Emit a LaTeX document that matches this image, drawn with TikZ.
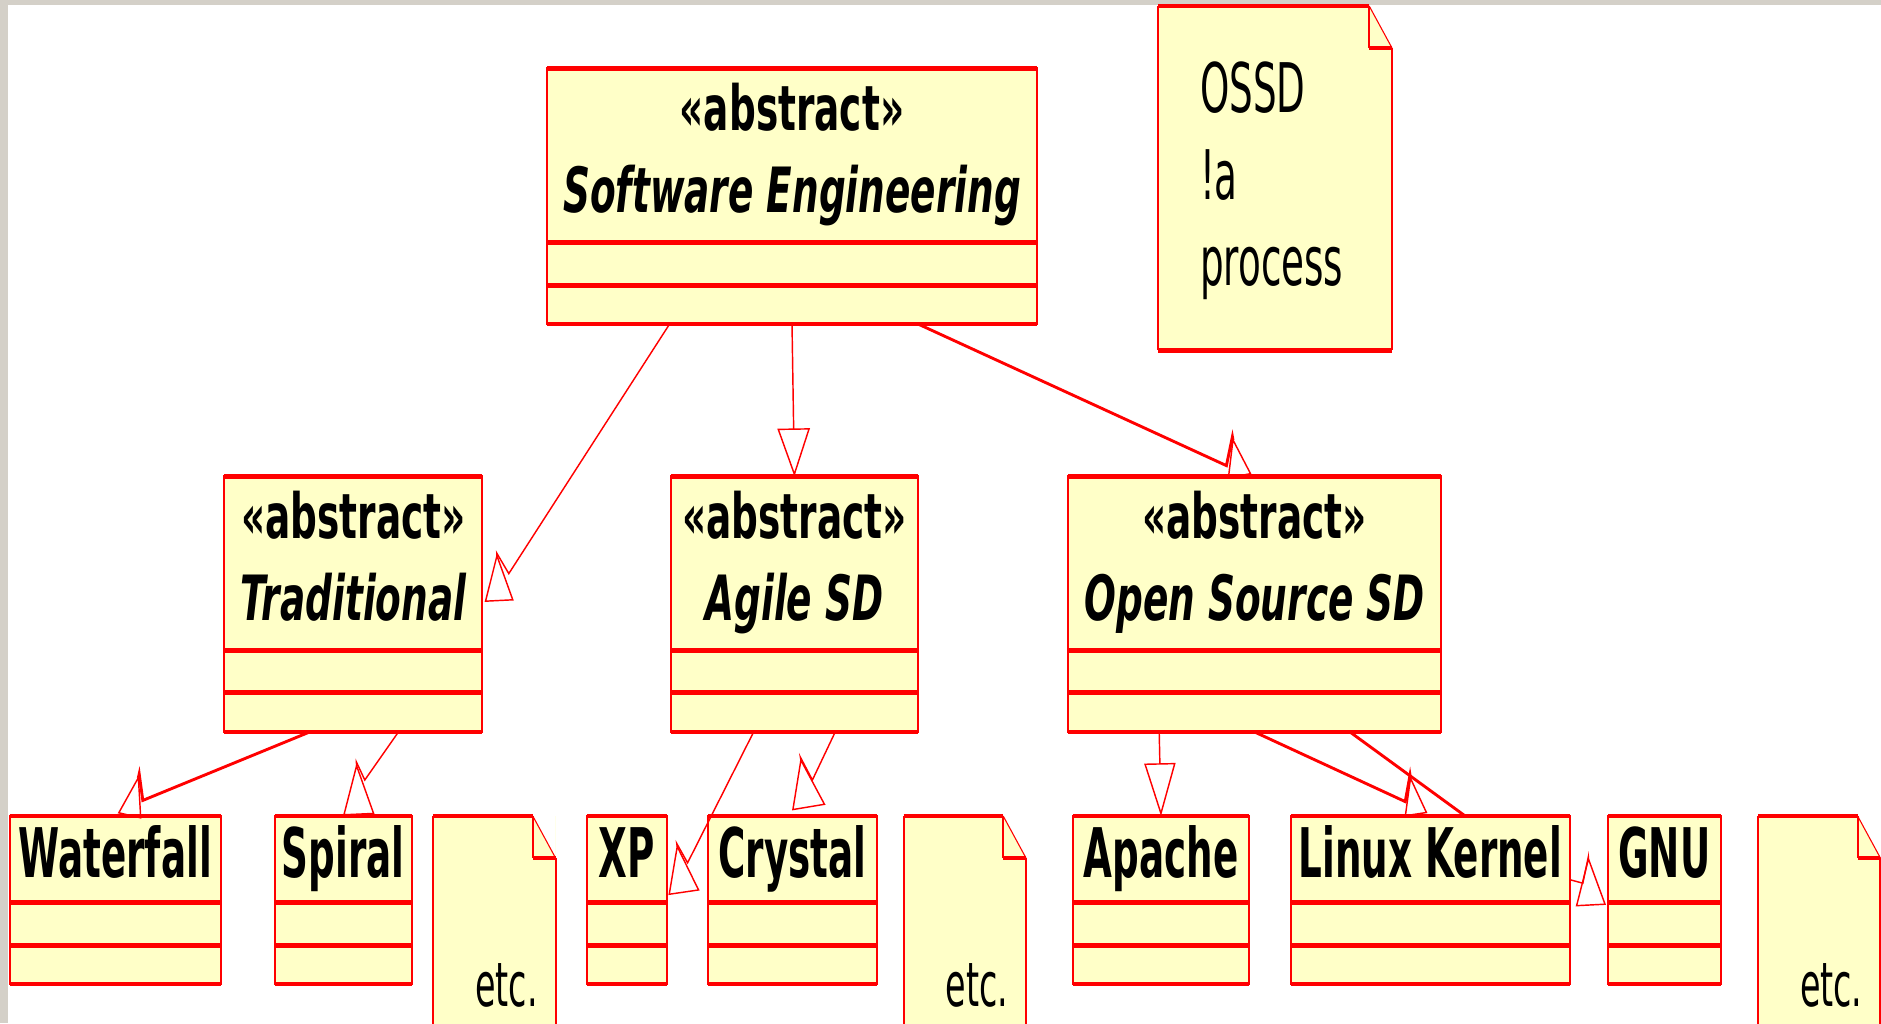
\documentclass[tikz,border=0pt]{standalone}
\usepackage{fontspec}
\newfontfamily\clsfont{DejaVu Sans}[FakeStretch=0.6]
\newfontfamily\leaffont{DejaVu Sans}[FakeStretch=0.545]
\usetikzlibrary{calc,positioning,arrows.meta}
\definecolor{umlred}{RGB}{255,0,0}
\definecolor{umlfill}{RGB}{255,255,200}
\definecolor{framegray}{RGB}{212,208,200}
\newcommand{\absname}[1]{\rule{0pt}{40pt}«abstract»\\\itshape #1\rule[-13pt]{0pt}{13pt}}

\begin{document}
\begin{tikzpicture}[x=1pt,y=-1pt,
  hbar/.style={draw=umlred,line width=4pt},
  vline/.style={draw=umlred,line width=1.8pt},
  cls/.style={draw=umlred,fill=umlfill,line width=1.8pt,outer sep=0pt,inner sep=0pt,
    append after command={(\tikzlastnode.north west) edge[hbar] (\tikzlastnode.north east)
      (\tikzlastnode.south west) edge[hbar] (\tikzlastnode.south east)}},
  abs/.style={cls,anchor=north west,minimum height=145pt,align=center,
    font=\clsfont\bfseries\fontsize{52}{68.5}\selectfont},
  leaf/.style={cls,anchor=north west,minimum height=72pt,text height=42pt,text depth=12pt,
    font=\leaffont\bfseries\fontsize{57}{68}\selectfont},
  note/.style={fill=umlfill,outer sep=0pt,inner xsep=35pt,inner ysep=0pt,anchor=north west,
    align=left,font=\leaffont\fontsize{57}{72}\selectfont},
  etcnote/.style={note,text width=32pt,minimum height=195pt,text height=125pt,text depth=2pt,
    font=\leaffont\fontsize{51}{60}\selectfont},
  conn/.style={draw=umlred,line width=1.2pt},
  flat/.style={draw=umlred,line width=2.4pt},
  gen/.style 2 args={-{Triangle[open,length=#1pt,width=#2pt,line width=1.2pt]}},
  rgen/.style 2 args={-{Triangle[open,reversed,length=#1pt,width=#2pt,line width=1.2pt]}}]
 \useasboundingbox (0,0) rectangle (1567.5,852.5);
 \clip (0,0) rectangle (1567.5,852.5);
 \fill[framegray] (0,0) rectangle (1567.5,852.5);
 \fill[white] (6.7,4.2) rectangle (1567.5,852.5);
 % notes
 \node[note,text width=125pt,minimum height=287pt] (ossd) at (965,5)
  {\rule{0pt}{49pt}OSSD\\!a\\process\rule[-14pt]{0pt}{14pt}};
 \node[etcnote] (etc1) at (361,680) {etc.};
 \node[etcnote] (etc2) at (753,680) {etc.};
 \node[etcnote] (etc3) at (1465,680) {etc.};
 \foreach \N in {ossd,etc1,etc2,etc3} {
  \fill[white] ($(\N.north east)+(-19,0)$) -- (\N.north east) -- ($(\N.north east)+(0,35)$) -- cycle;
  \draw[vline] (\N.north west) -- (\N.south west) ($(\N.north east)+(0,35)$) -- (\N.south east)
   ($(\N.north east)+(-19,0)$) -- ($(\N.north east)+(-19,35)$);
  \draw[hbar] (\N.north west) -- ($(\N.north east)+(-19,0)$) (\N.south west) -- (\N.south east)
   ($(\N.north east)+(-19,35)$) -- ($(\N.north east)+(0,35)$);
  \draw[umlred,line width=0.9pt] ($(\N.north east)+(-19,0)$) -- ($(\N.north east)+(0,35)$);
 }
 % classes
 \node[abs,minimum width=408pt] (se) at (456,57) {\absname{Software Engineering}};
 \node[abs,minimum width=215pt] (trad) at (187,397) {\absname{Traditional}};
 \node[abs,minimum width=206pt] (agile) at (559,397) {\absname{Agile SD}};
 \node[abs,minimum width=311pt] (oss) at (890,397) {\absname{Open Source SD}};
 \node[leaf,minimum width=176pt] (waterfall) at (8,680) {Waterfall};
 \node[leaf,minimum width=114pt] (spiral) at (229,680) {Spiral};
 \node[leaf,minimum width=67pt] (xp) at (489,680) {XP};
 \node[leaf,minimum width=141pt] (crystal) at (590,680) {Crystal};
 \node[leaf,minimum width=147pt] (apache) at (894,680) {Apache};
 \node[leaf,minimum width=232pt] (linux) at (1076,680) {Linux Kernel};
 \node[leaf,minimum width=94pt] (gnu) at (1340,680) {GNU};
 \foreach \C/\W/\A/\O in {se/408/36/32,trad/215/35/33,agile/206/35/33,oss/311/35/33,
   waterfall/176/36/32,spiral/114/36/32,xp/67/36/32,crystal/141/36/32,apache/147/36/32,
   linux/232/36/32,gnu/94/36/32} {
  \node[cls,minimum width=\W pt,minimum height=\A pt,below=0pt of \C] (\C-a) {};
  \node[cls,minimum width=\W pt,minimum height=\O pt,below=0pt of \C-a] (\C-o) {};
 }
 % generalizations
 \draw[conn,rgen={40}{24}] ($(se-o.south)+(-102,0)$) -- ($(trad.north east)+(22,81)$)
  -- ($(trad.north east)+(12,64)$) -- ($(trad.north east)+(14,104)$);
 \draw[conn,gen={40}{27}] (se-o.south) -- (agile.north);
 \draw[flat,rgen={33}{20}] ($(se-o.south)+(105,0)$) -- ($(oss.north west)+(132,-9)$)
  -- ($(oss.north west)+(137,-33)$) -- ($(oss.north west)+(143,0)$);
 \draw[flat,rgen={35}{20}] ($(trad-o.south)+(-36.5,0)$) -- ($(waterfall.north west)+(111,-13)$)
  -- ($(waterfall.north west)+(108,-35)$) -- ($(waterfall.north west)+(100,0)$);
 \draw[conn,rgen={43}{26}] ($(trad-o.south)+(37.5,0)$) -- ($(spiral.north west)+(75,-30)$)
  -- ($(spiral.north west)+(68,-45)$) -- ($(spiral.north west)+(70,-1)$);
 \draw[conn,rgen={41}{26}] ($(agile-o.south)+(-34,0)$) -- ($(xp.north east)+(17,39)$)
  -- ($(xp.north east)+(8,23)$) -- ($(xp.north east)+(14,64)$);
 \draw[conn,rgen={42}{28}] ($(agile-o.south)+(34,0)$) -- ($(crystal.north west)+(87,-30)$)
  -- ($(crystal.north west)+(77,-49)$) -- ($(crystal.north west)+(84,-7)$);
 \draw[conn,gen={44}{26}] ($(oss-o.south)+(-79.5,0)$) -- (apache.north);
 \draw[flat,rgen={33}{19}] (oss-o.south) -- ($(linux.north west)+(95,-12)$)
  -- ($(linux.north west)+(99,-34)$) -- ($(linux.north west)+(104,-1)$);
 \draw[flat] ($(oss-o.south)+(79.5,0)$) -- ($(linux.north west)+(145,0)$);
 \draw[conn,rgen={41}{25}] ($(linux.south east)+(0,-19)$) -- ($(gnu.west)+(-21,20)$)
  -- ($(gnu.west)+(-16.4,-2)$) -- ($(gnu.west)+(-14.3,38.7)$);
\end{tikzpicture}
\end{document}
